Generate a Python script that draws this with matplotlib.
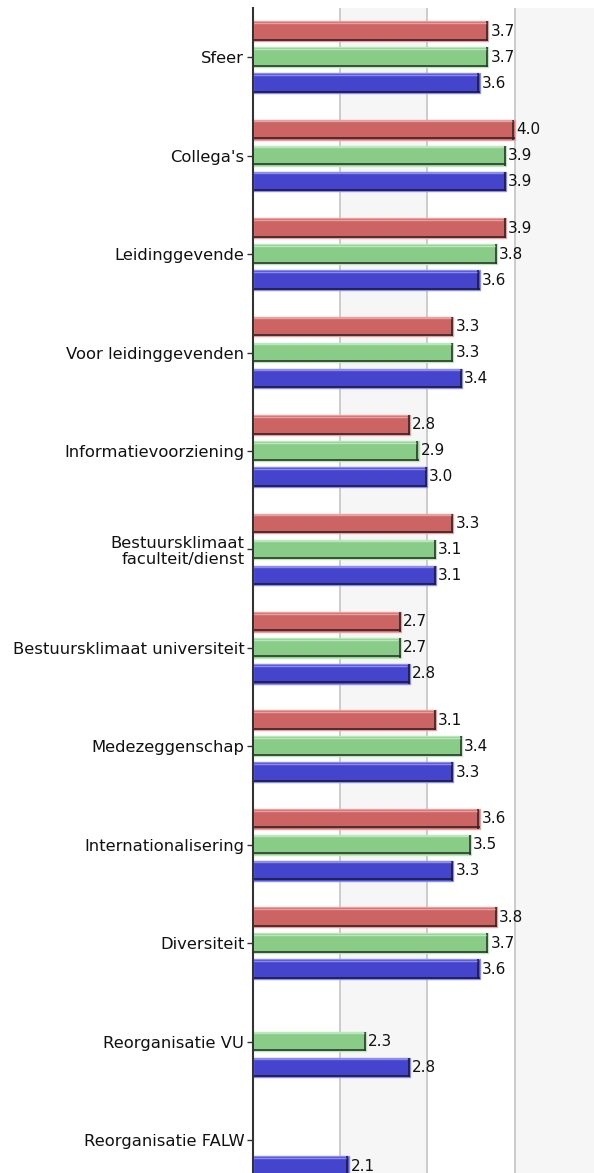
import numpy as np
import matplotlib
matplotlib.use("Agg")
import matplotlib.pyplot as plt
from matplotlib.transforms import offset_copy

categories = ["Sfeer", "Collega's", "Leidinggevende", "Voor leidinggevenden",
              "Informatievoorziening", "Bestuursklimaat\nfaculteit/dienst",
              "Bestuursklimaat universiteit", "Medezeggenschap",
              "Internationalisering", "Diversiteit", "Reorganisatie VU",
              "Reorganisatie FALW"]
red_vals = [3.7, 4.0, 3.9, 3.3, 2.8, 3.3, 2.7, 3.1, 3.6, 3.8, None, None]
green_vals = [3.7, 3.9, 3.8, 3.3, 2.9, 3.1, 2.7, 3.4, 3.5, 3.7, 2.3, None]
blue_vals = [3.6, 3.9, 3.6, 3.4, 3.0, 3.1, 2.8, 3.3, 3.3, 3.6, 2.8, 2.1]

series = [
    (red_vals, "#CC6464", "#E8A0A0", "#3a2222", -0.264),
    (green_vals, "#88CC88", "#BCE6BC", "#2a3a2a", 0.0),
    (blue_vals, "#4444CC", "#8C8CEE", "#1c1c44", 0.264),
]

W, H = 594, 1173
dpi = 100
fig = plt.figure(figsize=(W / dpi, H / dpi), dpi=dpi)
fig.patch.set_facecolor("white")

left_px = 252.7
top_px = 8
group_px = 98.44
n = len(categories)
ax_h_px = n * group_px
ax = fig.add_axes([left_px / W, (H - top_px - ax_h_px) / H,
                   (W - left_px) / W, ax_h_px / H])

xmin = 1.0
xmax = 1.0 + (W - left_px) / 87.3
ax.set_xlim(xmin, xmax)
ax.set_ylim(n - 0.5, -0.5)

# alternating bands and grid
ax.axvspan(2, 3, color="#F6F6F6", zorder=0, lw=0)
ax.axvspan(4, 5, color="#F6F6F6", zorder=0, lw=0)
for g in [2, 3, 4]:
    ax.axvline(g, color="#C8C8C8", lw=1.3, zorder=1)

bar_h = 0.2
y = np.arange(n)
for vals, fc, ec, dark, off in series:
    for i, v in enumerate(vals):
        if v is None:
            continue
        yc = y[i] + off
        ax.barh(yc, v - xmin, left=xmin, height=bar_h, color=fc,
                edgecolor=ec, linewidth=1.0, zorder=2)
        # dark bevel: bottom edge (shifted up) and right edge (shifted left)
        tr_b = offset_copy(ax.transData, fig=fig, x=0, y=1.3, units="dots")
        ax.plot([xmin, v], [yc + bar_h / 2, yc + bar_h / 2],
                color=dark, lw=1.2, transform=tr_b, zorder=3,
                solid_capstyle="butt")
        tr_r = offset_copy(ax.transData, fig=fig, x=-1.3, y=0, units="dots")
        ax.plot([v, v], [yc + bar_h / 2, yc - bar_h / 2],
                color=dark, lw=1.2, transform=tr_r, zorder=3,
                solid_capstyle="butt")
        # light highlight at top
        tr2 = offset_copy(ax.transData, fig=fig, x=0, y=-1.6, units="dots")
        ax.plot([xmin, v - 0.03], [yc - bar_h / 2, yc - bar_h / 2],
                color=ec, lw=1.0, transform=tr2, zorder=3,
                solid_capstyle="butt")
        ax.annotate(f"{v:.1f}", xy=(v, yc), xytext=(2, 0),
                    textcoords="offset pixels", va="center", ha="left",
                    fontsize=11, color="#111111", zorder=4)

ax.set_yticks(y)
ax.set_yticklabels(categories, fontsize=11.8, color="#111111", linespacing=1.1)
ax.set_xticks([])
ax.tick_params(axis="y", length=4, width=1, color="#333333", pad=2)
for s in ["top", "right", "bottom"]:
    ax.spines[s].set_visible(False)
ax.spines["left"].set_color("#333333")
ax.spines["left"].set_linewidth(1.5)
ax.spines["left"].set_zorder(5)
ax.set_facecolor("white")

fig.savefig("out.png", dpi=dpi)
